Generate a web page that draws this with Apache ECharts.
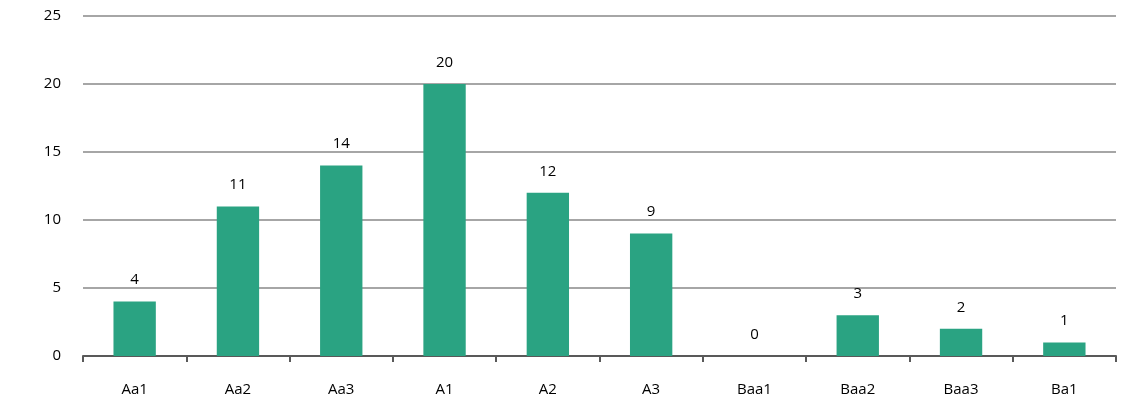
<!DOCTYPE html>
<html>
<head>
<meta charset="utf-8">
<script src="https://cdn.jsdelivr.net/npm/echarts@6/dist/echarts.min.js"></script>
<style>
html, body { margin: 0; padding: 0; background: #fff; }
#chart { width: 1129px; height: 412px; }
</style>
</head>
<body>
<div id="chart"></div>
<script>
var categories = ['Aa1', 'Aa2', 'Aa3', 'A1', 'A2', 'A3', 'Baa1', 'Baa2', 'Baa3', 'Ba1'];
var values = [4, 11, 14, 20, 12, 9, 0, 3, 2, 1];

var chart = echarts.init(document.getElementById('chart'));
var option = {
    animation: false,
    textStyle: { fontFamily: 'Open Sans' },
    grid: { left: 83, right: 13, top: 16, bottom: 56 },
    xAxis: {
        type: 'category',
        data: categories,
        axisLine: { lineStyle: { color: '#595959', width: 2 } },
        axisTick: { show: true, length: 6, lineStyle: { color: '#595959', width: 2 } },
        axisLabel: { color: '#000', fontSize: 15, margin: 26 }
    },
    yAxis: {
        type: 'value',
        min: 0,
        max: 25,
        interval: 5,
        axisLine: { show: false },
        axisTick: { show: false },
        axisLabel: { color: '#000', fontSize: 15, margin: 22 },
        splitLine: { lineStyle: { color: '#a6a6a6', width: 2 } }
    },
    series: [{
        type: 'bar',
        data: values,
        barWidth: '41%',
        itemStyle: { color: '#2aa382' },
        label: { show: true, position: 'top', distance: 14, color: '#000', fontSize: 15 }
    }]
};
chart.setOption(option);
</script>
</body>
</html>
